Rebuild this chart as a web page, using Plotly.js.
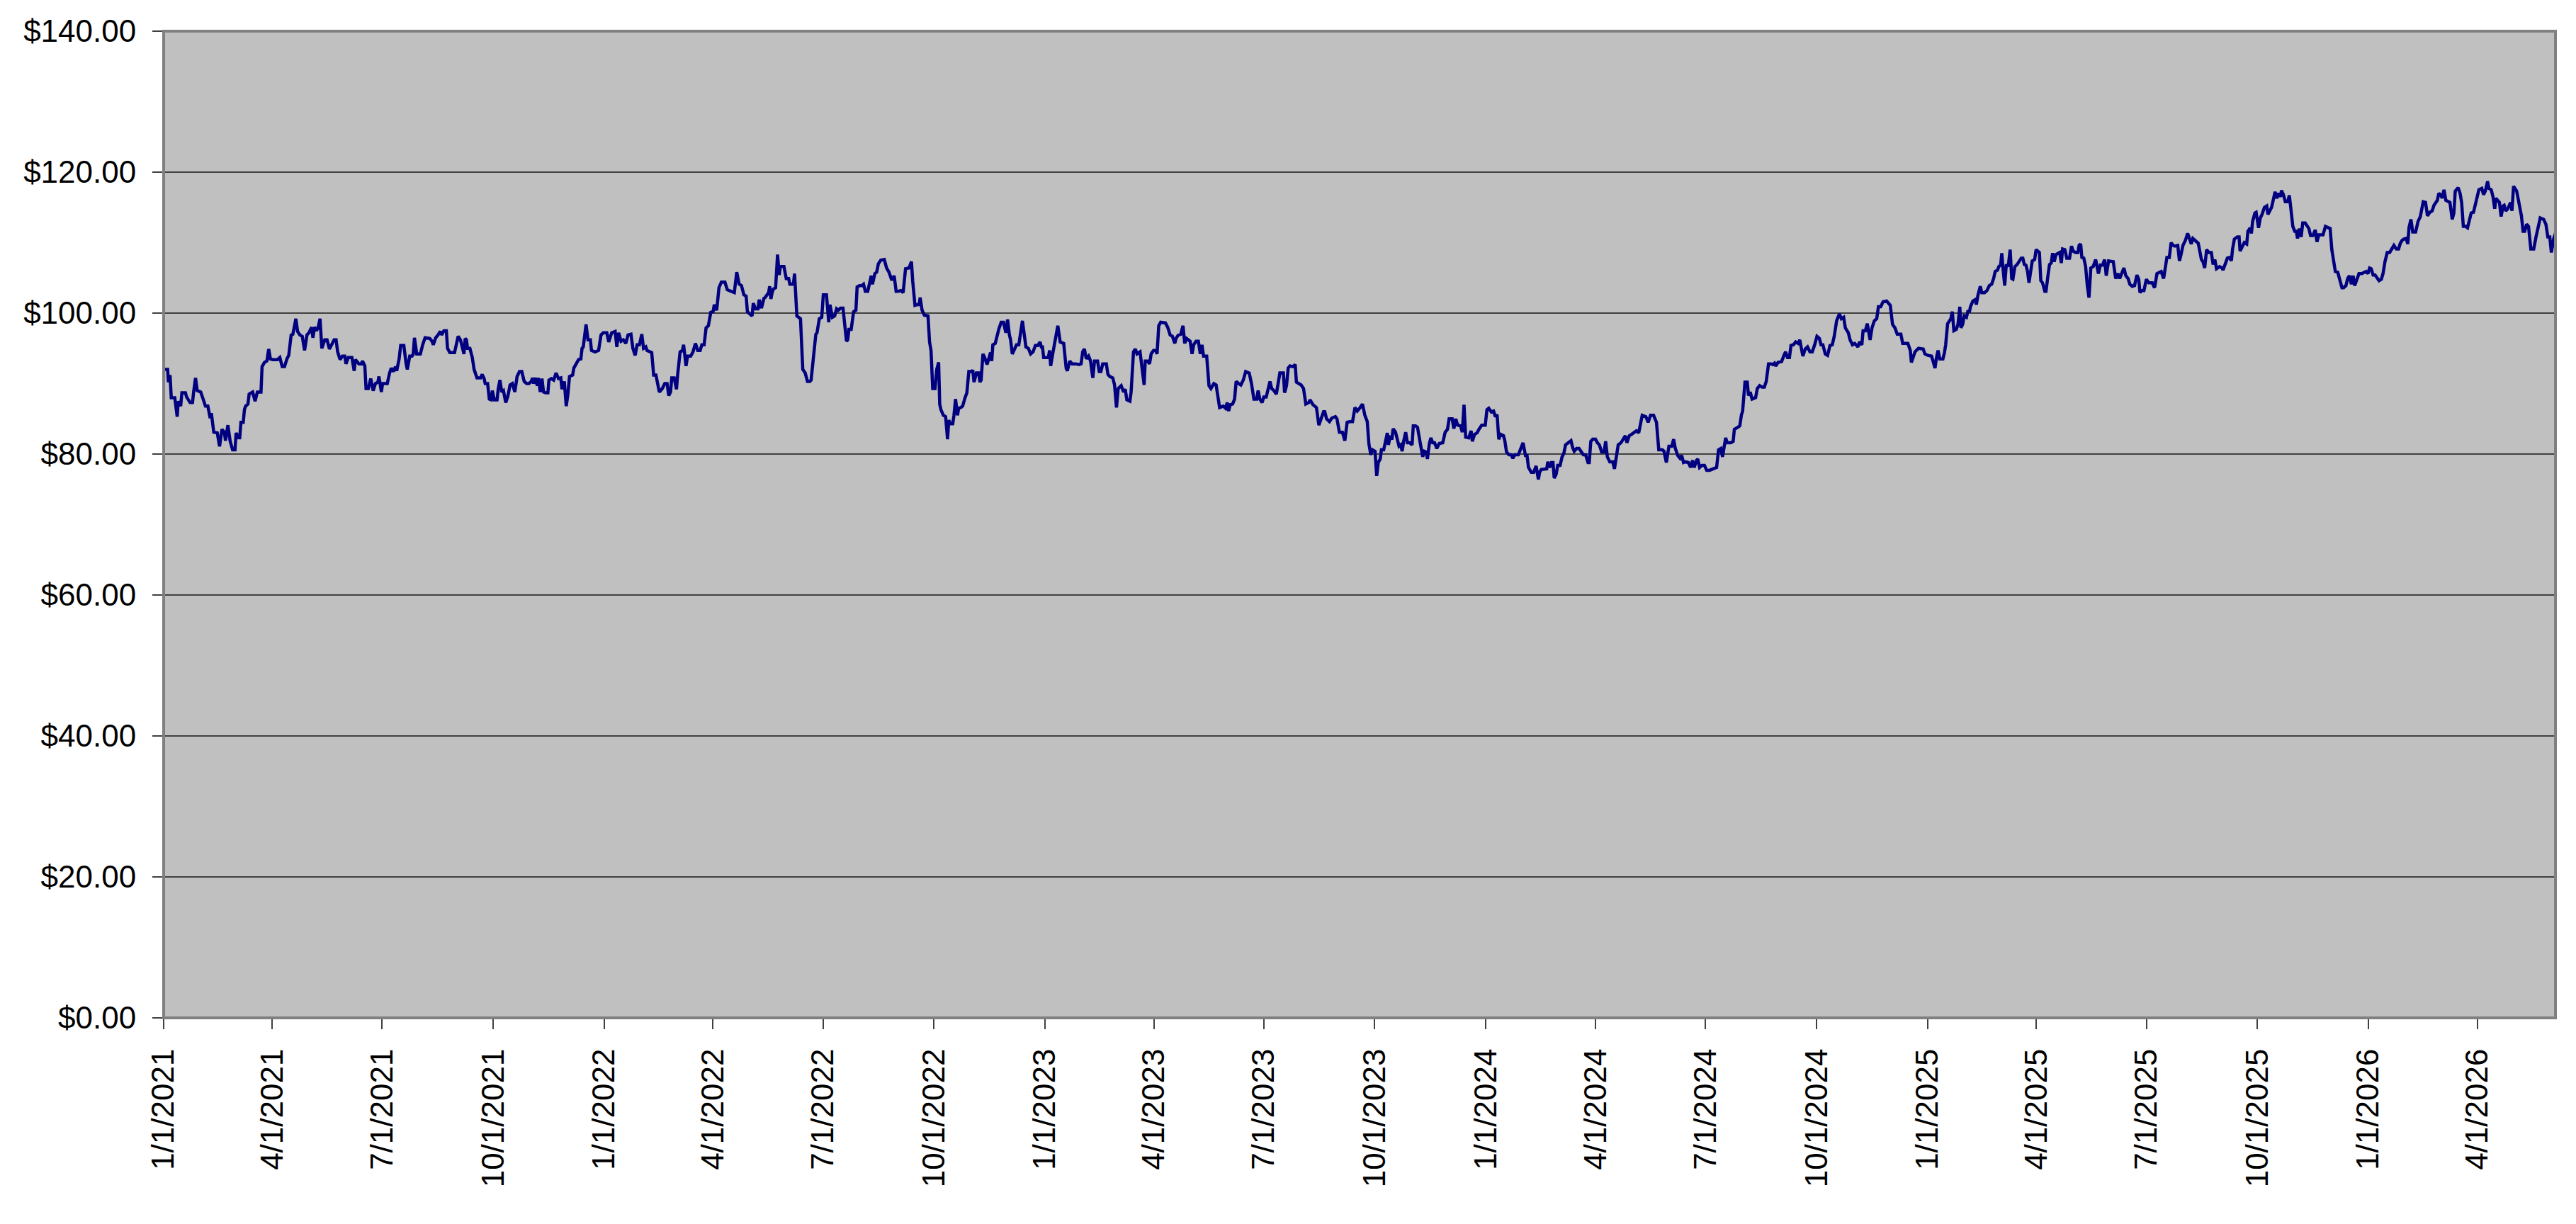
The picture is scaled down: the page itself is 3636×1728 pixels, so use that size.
<!DOCTYPE html>
<html>
<head>
<meta charset="utf-8">
<script src="https://cdn.plot.ly/plotly-3.0.1.min.js"></script>
<style>
  body { margin: 0; background: #fff; }
  #graph { width: 3636px; height: 1728px; }
</style>
</head>
<body>
<div id="graph"></div>
<script>
// price series: days since 1/1/2021 and price in $
var seriesStart = '2021-01-01';

var days2021a = [0,3.3,3.9,5.3,6.3,9.2,11.2,12.1,14.1,15.1,18.0,19.0,21.9,23.9,24.8,26.4,27.8,30.7,32.7,34.6,
  36.6,38.5,39.5,41.5,44.4,46.3,48.3,50.3,51.2,53.2,55.1,57.1,59.1,60.0,62.0,63.0,64.0,65.9,66.9,67.9,
  69.8,70.8,73.7,75.7,77.6,80.6,81.5,83.5,85.5,87.0,88.4,90.3,94.3,96.2,98.2,100.1,102.1,103.6,105.6,107.0,
  109.5,110.9,112.8,114.8,116.7,118.7,120.3,122.6,123.6,125.0,126.5,127.9,129.5,131.0,133.4,135.3,137.3,139.2,141.2,142.8,
  144.1,146.1,148.0,150.0,151.0,152.9,155.9,157.8,158.8,161.7,163.7,164.7,166.6,167.6,169.5,171.5,172.5,173.5,175.4,177.4,
  178.3,180.3,181.3,185.2,187.1,188.5,190.1,192.0,193.0,195.0,196.3,198.9,200.8,201.8,203.8,205.7,206.7,207.7,209.6,212.6,
  214.5,216.5,220.4,222.3,223.3,225.3,227.2,229.2,230.2,232.1,234.1,235.1,237.0,240.9,243.9,245.8,248.7];
var price2021a = [92.0,92.0,90.2,91.2,88.0,88.0,85.3,87.5,86.8,88.7,88.7,88.1,87.3,87.3,88.8,90.8,89.0,88.8,87.8,86.8,
  86.8,85.1,85.8,83.1,83.0,81.1,83.5,83.1,81.9,84.1,81.8,80.6,80.6,83.0,82.3,82.3,84.5,84.5,86.3,86.8,
  87.1,88.5,88.8,87.5,88.8,88.8,92.4,93.0,93.2,94.9,93.5,93.4,93.4,93.7,92.4,92.4,93.5,94.0,96.9,97.0,
  99.2,97.4,96.9,96.7,94.7,96.9,97.2,98.0,96.5,98.0,97.5,97.9,99.2,95.0,96.2,96.2,94.9,95.5,96.2,96.2,
  94.5,93.4,93.9,93.9,92.8,93.7,93.7,91.8,93.4,92.8,92.8,93.2,92.5,89.3,89.3,90.7,89.8,89.0,90.0,90.2,
  91.0,88.8,90.0,90.0,91.5,92.2,91.7,92.4,91.8,93.5,95.4,95.4,92.8,92.0,93.9,93.9,94.2,96.5,94.2,94.2,
  95.5,96.5,96.4,96.0,95.5,96.5,96.9,97.4,96.9,97.5,97.5,95.0,94.4,94.4,96.7,96.2,94.2];

var days2021b = [249.7,250.7,251.7,253.6,255.6,257.1,259.5,262.4,263.8,265.4,
  266.3,268.3,269.7,271.2,272.2,273.8,276.1,277.1,278.5,280.0,
  281.4,283.3,284.9,286.9,288.8,290.8,292.7,294.7,296.6,298.6,
  300.6,302.5,304.5,305.4,306.4,308.0,309.4,310.3,311.9,313.3,
  314.6,316.2,318.2,319.1,321.1,323.0,325.0,327.0,328.9,329.9,
  331.8,333.4,334.8,336.1,338.7,339.7,341.6,343.6,345.5,346.5,
  347.5,349.8,351.4,353.4,354.3,357.3,360.2,362.2,364.1,367.0,
  368.6,371.0,373.9,375.3,376.8,378.8,380.7,382.7,384.6,387.0,
  388.6,390.5,392.1,394.0,396.0,397.4,399.3,400.3,404.2,405.8,
  407.7,409.1,410.5,413.0,415.0,416.9,418.3,419.8,420.8,422.8,
  424.7,425.7,427.7,429.6,430.6,432.6,433.9,436.5,438.4,440.4,
  442.3,444.3,445.7,447.6,449.2,451.1,453.1,455.0,456.0,458.0,
  459.9,461.9,464.8,466.8,470.7,472.6,474.6,476.6,478.5,480.5,
  482.4,483.4,485.3,487.3,488.3,490.2,492.2,493.2,495.1,497.1,
  498.1];
var price2021b = [96.4,96.2,95.0,95.0,93.7,92.0,90.8,90.8,91.3,90.7,
  90.0,90.0,87.8,87.7,89.0,87.7,87.7,89.3,90.5,88.8,
  89.0,87.3,88.1,89.8,90.0,88.8,91.0,91.7,91.7,90.3,
  90.0,90.0,90.3,90.8,90.0,90.8,89.7,90.8,88.8,90.7,
  88.8,88.7,88.7,90.5,90.7,90.5,91.5,90.7,90.8,89.2,
  90.3,86.8,88.5,91.0,91.2,92.2,92.7,93.4,93.5,95.0,
  95.2,98.4,96.2,96.2,94.7,94.5,94.7,96.9,97.2,97.2,
  95.9,97.2,97.4,95.2,97.2,96.0,96.2,95.7,96.9,97.0,
  95.0,94.0,95.5,95.5,97.0,95.0,95.2,94.7,94.4,91.2,
  91.2,89.7,88.8,89.3,90.0,90.0,88.3,88.8,90.8,90.8,
  89.2,91.3,94.5,94.7,95.5,92.5,93.9,93.9,94.5,95.7,
  94.7,94.7,95.5,95.5,97.9,98.2,100.1,100.2,101.2,100.4,
  103.6,104.4,104.4,103.3,103.1,102.9,105.8,104.1,103.9,102.6,
  102.4,100.2,99.9,99.6,101.4,100.6,100.6,101.9,100.7,102.1,
  102.2];

var days2022 = [499.0,501.0,501.9,502.9,503.9,504.9,506.8,508.4,509.8,510.7,
  513.7,515.6,517.6,518.6,521.5,522.5,524.4,526.4,527.4,529.3,
  531.3,533.2,535.2,536.2,540.1,541.1,543.0,545.0,546.3,548.9,
  550.8,551.8,553.8,555.7,557.3,558.7,560.6,562.6,563.5,565.5,
  566.5,567.5,569.4,571.4,573.3,574.3,576.3,578.2,579.6,581.1,
  583.1,585.1,586.0,587.0,589.0,590.5,591.9,593.9,596.8,598.7,
  600.7,602.7,603.6,605.0,606.6,608.5,610.5,612.4,614.4,617.3,
  619.3,620.3,622.2,624.2,625.7,626.5,628.1,630.0,633.0,634.3,
  635.5,636.9,638.8,640.2,641.8,642.7,643.7,645.7,647.6,649.2,
  650.2,651.5,653.5,654.5,655.8,657.4,658.4,660.3,661.7,663.7,
  665.2,666.8,669.1,670.1,671.1,673.1,675.0,676.0,677.0,678.5,
  679.9,681.9,683.2,684.8,685.8,686.7,688.7,690.7,691.6,693.6,
  695.5,697.5,698.9,700.4,701.4,702.8,704.7,706.3,708.2,710.2,
  711.2,714.1,716.1,718.0,720.0,721.9,723.9,725.8,726.8,727.8,
  728.8,730.7,732.7,733.7,734.6,736.6,738.6,740.5,742.5,745.4,
  747.4];
var price2022 = [102.4,102.9,103.8,102.0,102.9,103.4,103.6,108.3,105.4,106.6,
  106.6,104.9,104.9,104.1,104.1,105.6,99.6,99.4,99.2,92.0,
  91.5,90.3,90.3,90.5,97.0,97.2,99.2,99.4,102.6,102.6,
  98.7,101.2,99.4,99.6,100.6,100.4,100.7,100.7,98.9,96.0,
  96.2,97.7,97.7,100.2,100.4,103.7,103.9,103.9,104.1,103.1,
  103.1,104.4,105.3,104.1,105.6,105.8,107.0,107.5,107.6,106.4,
  105.8,104.8,104.8,105.3,103.1,103.1,103.2,102.9,106.3,106.4,
  107.3,104.6,101.1,101.2,101.2,102.2,100.4,99.7,99.6,95.9,
  94.7,89.3,89.3,92.0,93.0,87.1,86.3,85.5,85.3,82.1,
  84.8,84.3,84.3,85.5,87.8,85.5,86.5,86.6,86.8,88.0,
  88.7,91.7,91.7,91.9,90.2,91.5,91.5,90.2,90.5,94.2,
  93.7,92.7,93.5,94.4,93.2,95.5,95.7,97.2,97.7,98.7,
  98.7,97.2,99.1,96.9,96.2,94.2,94.9,95.5,95.5,98.2,
  98.9,95.2,95.0,94.2,94.5,95.4,95.4,95.9,95.2,95.2,
  93.7,93.7,93.7,94.7,92.5,94.5,96.2,98.2,95.9,95.7,
  92.2];

var days2023a = [748.4,750.4,752.3,755.3,758.2,759.8,761.1,762.5,764.1,766.0,
  767.6,769.5,770.9,773.4,774.8,776.2,777.7,780.7,782.0,783.6,
  786.0,787.5,789.1,790.5,793.0,795.0,796.3,797.7,800.2,801.2,
  803.2,804.7,806.1,808.6,810.0,812.0,812.9,814.9,816.5,817.8,
  819.8,821.7,822.7,824.1,825.7,829.6,831.5,833.5,835.4,837.4,
  838.4,840.3,842.3,844.2,845.6,847.2,850.1,851.7,853.0,855.0,
  856.9,858.5,859.9,861.2,863.8,865.7,867.3,869.7,871.6,874.5,
  877.5,879.4,880.8,882.0,883.3,885.3,886.9,888.2,890.2,892.1,
  894.1,896.1,899.0,900.9,902.9,905.2,906.4,907.8,909.7,911.1,
  913.1,914.6,916.2,917.6,919.5,921.5,922.8,924.4,927.3,928.3,
  929.9,931.3,932.8,935.2,937.1,938.1,940.1,942.0,944.0,945.9,
  948.3,949.4,951.8,954.7,956.7,958.6,960.6,961.6,963.1,965.5,
  967.4,970.4,971.7,973.7,976.2,978.2,980.1,982.1,984.6,986.6,
  988.5,990.9,992.8,994.8,996.8];
var price2023a = [91.8,93.2,92.8,92.8,92.7,92.8,94.5,94.9,93.5,93.9,
  93.2,90.8,93.2,93.2,91.7,91.7,92.8,92.8,91.3,91.0,
  90.8,89.8,86.6,89.3,89.7,88.8,89.2,87.7,87.5,88.8,
  94.5,94.9,94.2,94.5,92.2,89.8,93.2,93.2,92.8,94.2,
  94.7,94.7,94.2,98.2,98.7,98.6,98.0,96.9,96.7,95.7,
  96.4,96.9,97.0,98.2,95.7,96.4,96.0,94.2,95.5,96.0,
  96.0,94.2,95.5,93.9,93.9,89.7,89.3,90.0,89.8,86.6,
  86.8,86.5,87.3,86.1,87.0,87.1,87.8,90.3,90.0,89.8,
  90.5,91.7,91.5,90.0,87.8,87.8,89.0,87.8,87.3,88.1,
  88.1,89.3,90.3,89.3,89.0,88.5,90.0,91.5,91.5,88.7,
  89.7,92.2,92.5,92.4,92.7,90.2,90.0,89.8,89.3,87.1,
  87.3,87.7,87.0,86.6,84.1,85.1,86.0,86.0,85.0,84.6,
  85.1,85.3,85.0,83.1,83.1,81.9,84.5,84.6,84.6,86.6,
  86.1,86.6,87.1,85.5,84.6];

var days2023b = [998.1,999.7,1001.2,1003.2,1004.6,1005.9,1007.5,1008.5,1010.4,1012.4,
  1013.4,1014.3,1015.7,1017.3,1018.2,1020.2,1021.6,1023.1,1024.5,1025.7,
  1027.0,1028.6,1030.0,1031.9,1033.9,1034.9,1036.8,1038.4,1039.8,1041.3,
  1042.7,1044.1,1045.6,1046.6,1048.2,1049.5,1050.9,1052.5,1054.4,1056.4,
  1059.3,1061.3,1063.2,1064.6,1067.1,1068.5,1070.1,1071.6,1074.0,1075.5,
  1076.9,1078.3,1080.8,1082.8,1083.8,1085.7,1087.7,1089.6,1091.6,1094.5,
  1095.9,1097.4,1099.4,1101.4,1102.9,1104.3,1105.7,1107.2,1109.6,1110.7,
  1112.1,1114.1,1116.0,1117.4,1119.0,1121.9,1122.9,1124.4,1125.8,1127.8,
  1129.1,1130.3,1132.6,1134.6,1136.6,1138.5,1139.5,1140.9,1143.4,1145.4,
  1146.3,1147.9,1149.3,1150.6,1151.6,1153.2,1154.5,1156.5,1158.1,1159.6,
  1161.0,1163.0,1165.5,1166.9,1168.2,1170.2,1172.1,1174.1,1175.7,1177.6,
  1179.6,1180.6,1181.9,1183.5,1185.8,1187.4,1189.0,1190.9,1192.9,1194.2,
  1195.6,1197.6,1200.1,1201.5,1203.0,1204.6,1206.9,1208.5,1210.5,1211.8,
  1213.8,1215.7,1217.7,1219.7,1221.6,1223.0,1224.5,1227.5,1229.4,1231.4,
  1233.9,1236.3,1238.2,1241.2,1242.5,1244.5,1246.1];
var price2023b = [81.5,79.9,80.6,80.4,76.9,78.8,79.3,80.6,80.6,82.3,
  83.0,81.3,82.4,82.3,83.6,83.1,82.1,81.1,81.3,80.4,
  81.9,83.1,81.6,81.6,81.3,84.0,84.0,83.8,82.4,80.8,
  79.6,80.4,80.3,79.3,81.5,82.3,81.6,81.6,80.8,81.5,
  81.6,83.1,83.5,85.0,85.0,83.6,85.0,84.1,84.0,83.1,
  87.0,82.4,82.3,83.3,81.8,82.8,83.0,83.6,84.1,84.1,
  86.3,86.5,86.0,86.1,85.3,85.6,82.1,82.8,82.6,81.9,
  80.3,79.9,79.9,79.4,79.9,79.9,80.4,80.8,81.6,79.8,
  79.8,78.1,77.4,77.4,78.3,76.4,77.4,77.8,77.9,77.9,
  78.9,78.1,78.8,78.8,76.6,77.1,78.4,78.4,79.6,80.1,
  81.3,81.6,81.9,80.9,80.4,80.8,80.8,80.3,79.9,79.9,
  78.8,78.8,81.8,82.1,82.1,81.6,81.3,80.3,80.3,81.8,
  79.6,78.9,78.9,77.9,79.8,81.3,81.6,82.1,82.6,81.6,
  82.6,82.8,83.1,83.3,83.0,84.3,85.5,85.3,84.5,85.5,
  85.5,84.5,80.6,80.6,80.4,78.8,80.8];

var days2024 = [1246.6,1249.0,1250.5,1251.9,1253.9,1255.8,1257.2,1258.7,1260.3,1262.7,
  1264.6,1266.2,1267.5,1269.5,1270.5,1272.0,1274.0,1276.0,1277.9,1280.3,
  1283.2,1286.1,1287.7,1289.6,1291.0,1293.6,1294.9,1297.9,1299.8,1300.8,
  1303.7,1305.3,1306.7,1307.6,1309.6,1311.5,1312.5,1313.9,1315.5,1318.4,
  1319.8,1321.7,1323.7,1325.6,1327.2,1329.1,1331.1,1332.7,1334.0,1335.0,
  1337.0,1339.9,1341.9,1343.2,1344.8,1346.4,1347.7,1349.7,1351.6,1353.6,
  1355.0,1356.1,1357.5,1359.5,1361.4,1363.4,1365.3,1367.3,1369.2,1371.2,
  1372.6,1374.1,1376.1,1378.0,1380.0,1381.9,1383.5,1385.5,1387.8,1389.4,
  1391.3,1392.7,1395.2,1396.6,1398.6,1400.5,1403.1,1404.4,1406.4,1407.4,
  1409.3,1410.9,1412.3,1413.2,1414.8,1416.7,1418.7,1420.1,1422.0,1424.0,
  1426.9,1429.9,1431.8,1433.8,1435.7,1438.7,1440.2,1442.2,1444.5,1446.5,
  1447.4,1448.4,1450.4,1453.3,1457.2,1458.6,1461.1,1464.1,1466.0,1467.0,
  1468.0,1469.5,1470.9,1473.5,1474.8,1475.8,1477.4,1480.1,1481.3,1482.6,
  1484.6,1486.0,1487.5,1488.5,1489.9,1491.1,1493.0,1494.4,1495.4];
var price2024 = [81.1,81.1,82.1,80.8,79.8,79.4,79.8,78.8,78.9,78.8,
  78.1,79.1,78.1,79.1,79.3,78.1,78.4,78.4,77.7,77.7,
  77.9,78.1,80.6,80.8,79.6,82.3,81.6,81.6,81.8,83.5,
  83.8,84.0,85.6,86.0,90.2,90.2,88.3,88.8,87.8,88.0,
  89.3,89.7,89.5,89.5,90.3,92.8,92.8,92.7,92.9,92.5,
  93.0,93.1,94.0,94.5,93.7,93.7,95.4,95.5,95.9,95.7,
  96.2,95.0,93.9,94.9,95.2,94.5,94.5,95.5,96.7,96.4,
  95.5,95.5,94.2,94.0,95.4,95.5,96.7,98.9,99.9,99.2,
  99.4,97.9,97.2,96.2,95.5,95.7,95.2,95.9,95.5,97.5,
  97.5,98.5,97.2,96.2,97.9,98.9,99.2,100.9,100.9,101.6,
  101.7,101.1,98.4,97.9,97.0,97.0,95.7,95.7,95.7,94.7,
  93.0,93.5,94.5,95.0,94.9,94.2,94.0,93.9,92.8,92.2,
  93.5,94.7,93.5,93.5,94.4,95.5,98.5,99.2,100.2,97.5,
  97.7,98.4,100.9,97.9,98.4,99.6,99.4,100.4,100.1];

var days2025 = [1496.3,1498.3,1500.2,1501.2,1502.6,1504.5,1505.7,1508.0,1510.0,1512.0,
  1513.9,1515.5,1516.8,1518.8,1519.8,1521.3,1522.3,1523.3,1524.7,1526.0,
  1527.6,1529.2,1530.5,1531.5,1533.1,1535.0,1537.0,1538.4,1539.7,1540.9,
  1542.3,1543.6,1544.8,1546.2,1547.5,1549.5,1550.7,1552.0,1553.4,1554.6,
  1556.0,1557.9,1558.9,1560.5,1561.8,1563.2,1564.4,1565.7,1567.1,1569.1,
  1570.2,1571.6,1572.6,1574.5,1576.1,1578.4,1580.0,1581.4,1583.3,1585.3,
  1586.3,1587.6,1588.6,1590.2,1591.7,1593.1,1594.5,1596.0,1598.0,1600.0,
  1600.9,1602.3,1603.9,1605.8,1607.4,1608.8,1610.7,1612.7,1614.6,1616.6,
  1618.5,1619.9,1621.5,1623.4,1625.0,1626.9,1628.3,1630.3,1632.2,1634.2,
  1635.7,1636.7,1638.1,1640.0,1642.0,1644.0,1646.9,1648.8,1650.8,1652.8,
  1654.3,1656.3,1657.6,1659.0,1661.0,1662.5,1664.1,1665.5,1668.0,1669.4,
  1670.7,1672.3,1674.3,1676.2,1677.8,1679.2,1680.5,1683.1,1685.0,1686.0,
  1687.6,1688.9,1690.3,1691.9,1693.8,1695.8,1697.3,1698.7,1700.1,1702.6,
  1704.6,1705.5,1707.5,1709.1,1711.0,1712.4,1713.4,1714.9,1717.3,1718.8,
  1719.6,1721.6,1723.1,1725.1,1726.1,1728.0,1729.0,1730.0,1731.9,1732.9,
  1734.9,1736.4,1737.8,1739.8,1741.7,1742.7,1744.7];
var price2025 = [100.9,101.7,101.9,101.2,102.6,103.8,102.9,102.9,103.2,103.9,
  104.1,104.9,105.9,106.1,106.6,106.8,108.5,106.3,103.9,106.9,
  106.6,109.0,104.9,104.8,106.6,106.9,107.4,107.8,107.8,106.9,
  106.8,105.9,104.3,105.6,107.4,107.6,109.0,108.8,108.6,104.6,
  104.3,103.1,103.1,105.3,106.9,107.1,108.5,107.3,108.3,108.5,
  108.6,107.1,109.1,109.0,107.8,107.8,109.5,108.8,108.6,108.6,
  109.6,109.8,107.9,107.8,106.6,103.9,102.2,106.4,106.6,107.6,
  106.9,105.6,106.8,106.8,107.6,105.3,107.4,107.4,107.3,104.9,
  105.6,104.9,105.6,106.4,105.3,104.9,104.1,103.8,103.9,105.4,
  104.8,102.9,103.2,103.2,104.8,104.3,104.3,103.6,105.6,105.8,
  105.9,104.9,106.3,107.9,107.9,110.0,109.6,109.5,109.6,107.4,
  108.3,109.6,110.3,111.3,110.5,109.8,110.6,110.1,109.9,109.0,
  107.6,107.3,106.4,109.0,108.6,108.6,106.9,107.6,106.3,106.6,
  106.4,106.1,107.1,107.8,107.9,107.4,109.1,110.5,110.8,110.8,
  108.8,109.5,110.0,109.8,111.6,112.1,111.3,113.0,114.2,114.3,
  112.1,113.5,114.0,115.0,115.2,114.0,114.8];

var days2026 = [1745.7,1747.3,1748.6,1750.0,1751.6,1753.1,1753.9,1755.5,1757.1,1759.0,
  1760.4,1761.7,1763.3,1764.9,1766.2,1767.2,1768.8,1770.2,1771.5,1773.5,
  1775.0,1776.6,1778.0,1779.9,1781.9,1783.3,1784.8,1786.4,1788.3,1790.3,
  1792.3,1794.2,1795.6,1797.1,1798.5,1800.5,1802.0,1804.0,1805.4,1807.3,
  1808.7,1810.2,1811.8,1813.2,1814.5,1816.5,1818.1,1820.4,1822.4,1823.9,
  1825.5,1826.9,1828.2,1829.8,1831.4,1832.7,1834.7,1836.6,1838.0,1839.6,
  1841.5,1843.5,1845.4,1847.0,1849.0,1850.9,1852.3,1853.7,1855.2,1857.2,
  1858.5,1859.5,1861.1,1862.6,1865.0,1867.0,1868.9,1869.9,1871.3,1873.2,
  1874.8,1876.7,1878.7,1880.2,1881.6,1883.0,1884.2,1886.1,1886.9,1888.5,
  1890.0,1892.0,1893.4,1895.3,1896.7,1897.8,1900.2,1901.8,1903.1,1904.5,
  1906.5,1908.0,1909.6,1911.0,1912.9,1914.3,1915.8,1917.4,1919.8,1921.3,
  1922.7,1924.6,1925.6,1927.6,1929.1,1930.5,1931.5,1933.4,1934.4,1935.8,
  1937.4,1938.3,1939.7,1941.3,1943.6,1944.8,1946.1,1948.7,1950.6,1952.6,
  1954.0,1955.3,1956.9,1958.5,1960.4,1962.8,1964.7,1966.7,1968.2,1971.0,
  1972.9,1974.5,1976.1,1977.4,1978.4,1979.4,1980.8];
var price2026 = [115.0,116.2,117.2,116.3,117.0,116.5,117.4,116.8,115.8,115.8,
  116.7,114.8,112.3,111.6,111.6,110.6,112.0,110.8,112.8,112.8,
  112.3,112.0,111.0,111.0,111.8,110.1,111.1,111.1,111.1,112.3,
  112.1,112.0,109.0,107.4,105.9,105.8,104.9,103.6,103.6,103.9,
  104.9,105.3,104.1,105.3,103.9,104.8,105.6,105.6,105.8,105.9,
  105.6,106.4,106.3,105.4,105.4,105.1,104.6,104.8,105.6,107.3,
  108.6,108.6,109.1,109.6,109.1,109.1,109.9,110.3,110.5,110.6,
  109.8,112.1,113.3,111.5,111.5,113.0,113.7,114.7,115.8,115.7,
  113.8,114.3,114.5,115.3,115.7,116.0,117.0,116.7,116.3,117.5,
  116.0,115.8,115.7,113.3,114.2,117.3,117.8,117.0,115.7,112.3,
  112.3,112.1,113.2,114.2,114.3,115.2,116.2,117.5,117.7,116.8,
  117.3,118.7,117.7,117.5,116.5,114.8,116.3,116.0,115.7,113.7,
  115.2,115.3,114.5,114.8,115.7,114.5,118.0,117.3,115.7,113.8,
  111.6,111.6,112.6,112.3,109.1,109.1,110.8,112.3,113.5,113.3,
  112.6,110.8,110.8,108.6,109.8,110.6,111.3];

// quarterly axis ticks
var tickDates = ['2021-01-01','2021-04-01','2021-07-01','2021-10-01',
  '2022-01-01','2022-04-01','2022-07-01','2022-10-01',
  '2023-01-01','2023-04-01','2023-07-01','2023-10-01',
  '2024-01-01','2024-04-01','2024-07-01','2024-10-01',
  '2025-01-01','2025-04-01','2025-07-01','2025-10-01',
  '2026-01-01','2026-04-01'];
var tickLabels = ['1/1/2021','4/1/2021','7/1/2021','10/1/2021',
  '1/1/2022','4/1/2022','7/1/2022','10/1/2022',
  '1/1/2023','4/1/2023','7/1/2023','10/1/2023',
  '1/1/2024','4/1/2024','7/1/2024','10/1/2024',
  '1/1/2025','4/1/2025','7/1/2025','10/1/2025',
  '1/1/2026','4/1/2026'];

var allDays = [].concat(days2021a, days2021b, days2022, days2023a, days2023b, days2024, days2025, days2026);
var allPrices = [].concat(price2021a, price2021b, price2022, price2023a, price2023b, price2024, price2025, price2026);

var startMs = Date.parse(seriesStart + 'T00:00:00Z');
var xDates = allDays.map(function (d) { return startMs + d * 86400000; });

var trace = {
  type: 'scatter',
  mode: 'lines',
  x: xDates,
  y: allPrices,
  line: { color: '#000080', width: 4.5 },
  hoverinfo: 'skip'
};

var axisFont = { family: 'Liberation Sans, Arial, sans-serif', size: 44, color: '#000000' };

var layout = {
  width: 3636,
  height: 1728,
  margin: { l: 231, r: 29, t: 44, b: 291 },
  paper_bgcolor: '#ffffff',
  plot_bgcolor: '#c0c0c0',
  showlegend: false,
  font: axisFont,
  xaxis: {
    type: 'date',
    range: ['2021-01-01', '2026-06-04 19:12'],
    tickvals: tickDates,
    ticktext: tickLabels,
    tickangle: -90,
    tickfont: axisFont,
    ticks: 'outside',
    ticklen: 14,
    tickwidth: 2,
    tickcolor: '#404040',
    ticklabelstandoff: 10,
    showgrid: false,
    zeroline: false,
    showline: true,
    linecolor: '#404040',
    linewidth: 2
  },
  yaxis: {
    range: [0, 140],
    tick0: 0,
    dtick: 20,
    tickprefix: '$',
    tickformat: '.2f',
    tickfont: axisFont,
    ticks: 'outside',
    ticklen: 14,
    tickwidth: 2,
    tickcolor: '#404040',
    ticklabelstandoff: 14,
    showgrid: true,
    gridcolor: '#404040',
    gridwidth: 2,
    zeroline: false,
    showline: true,
    linecolor: '#404040',
    linewidth: 2
  },
  shapes: [{
    type: 'rect', xref: 'paper', yref: 'paper',
    x0: 0, x1: 1, y0: 0, y1: 1,
    line: { color: '#808080', width: 4 },
    layer: 'above'
  }]
};

Plotly.newPlot('graph', [trace], layout, { staticPlot: true, displayModeBar: false });
</script>
</body>
</html>
